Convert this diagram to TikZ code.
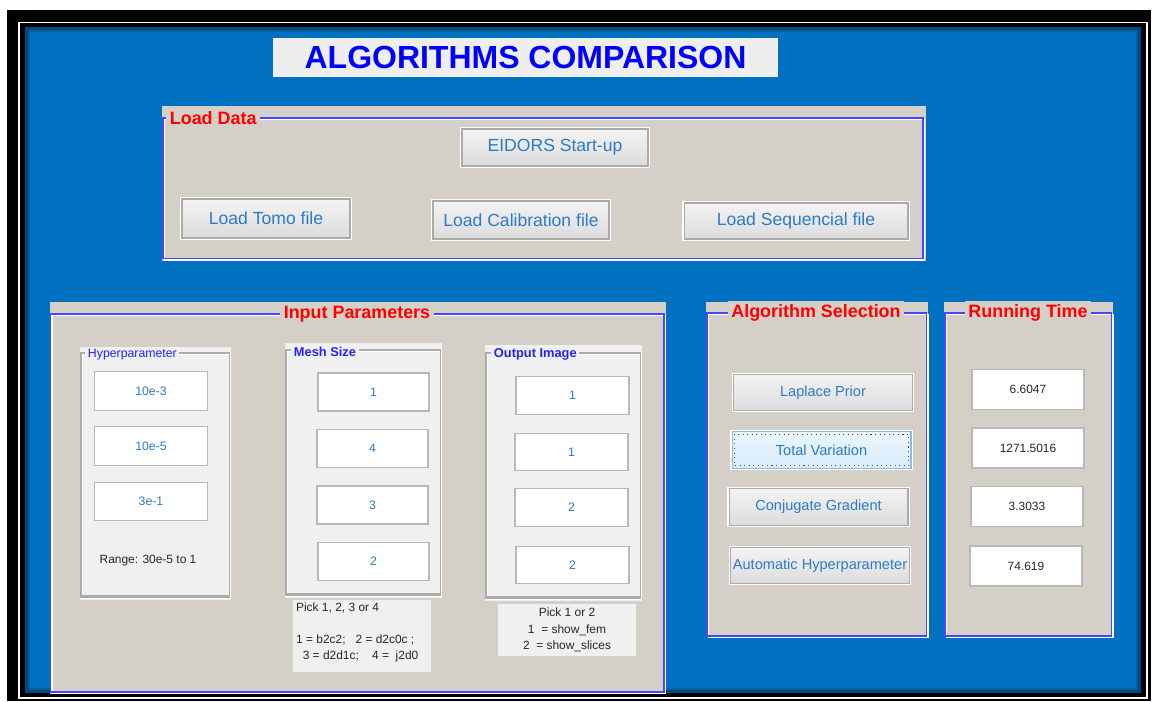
\documentclass[tikz,border=0pt]{standalone}
\usepackage{fontspec}
\setmainfont{Liberation Sans}

\definecolor{deskblue}{HTML}{0070C0}
\definecolor{panelgray}{HTML}{D4D0C8}
\definecolor{boxgray}{HTML}{F0F0F0}
\definecolor{titlegray}{HTML}{EEEEEE}
\definecolor{frameblue}{HTML}{4646FA}
\definecolor{edgegray}{HTML}{ABABAB}
\definecolor{labelblue}{HTML}{2B7BC9}
\definecolor{headblue}{HTML}{2323F5}
\definecolor{btntop}{HTML}{F3F3F3}
\definecolor{btnbot}{HTML}{DCDCDC}
\definecolor{focustop}{HTML}{EAF6FD}
\definecolor{focusbot}{HTML}{D7ECFB}
\definecolor{focusedge}{HTML}{8FB8E6}

\tikzset{
  paneltitle/.style={fill=panelgray, text=red, inner sep=2pt,
    font=\fontsize{10.2}{12}\selectfont\bfseries},
  subtitle/.style={fill=boxgray, text=headblue, inner sep=1.5pt, anchor=west,
    font=\fontsize{7}{8}\selectfont},
  panelframe/.style={draw=frameblue, line width=0.8pt},
  etchline/.style={draw=white, line width=0.7pt, shift={(1.5,1.5)}},
  subframe/.style={draw=edgegray, line width=0.6pt},
  pushbutton/.style={draw=edgegray, line width=0.6pt, top color=btntop,
    bottom color=btnbot, text=labelblue, inner sep=0pt,
    preaction={draw=white, line width=1.8pt},
    font=\fontsize{10}{12}\selectfont},
  algobutton/.style={pushbutton, minimum width=3.58cm, minimum height=0.73cm,
    font=\fontsize{8.3}{10}\selectfont},
  entry/.style={draw=edgegray!85, fill=white, line width=0.8pt, text=labelblue,
    inner sep=0pt, font=\fontsize{7}{8}\selectfont},
  timebox/.style={entry, text=black!85, minimum width=2.24cm, minimum height=0.8cm,
    font=\fontsize{6.8}{8}\selectfont},
  notetext/.style={text=black!85, inner sep=1pt, font=\fontsize{6.8}{9.2}\selectfont}
}

\begin{document}
\begin{tikzpicture}[x=0.02cm, y=-0.02cm]
  \useasboundingbox (0,0) rectangle (1152,702);

  % Window frame
  \fill[white] (0,0) rectangle (1152,702);
  \fill[black] (7,10) rectangle (1151,701);
  \draw[white, line width=0.9pt] (19,22.5) rectangle (1147,698);
  \fill[deskblue] (25,27) rectangle (1141,693);
  \draw[black, opacity=0.35, line width=1.2pt] (26.5,28.5) rectangle (1139.5,691.5);
  \draw[black, opacity=0.15, line width=1.5pt] (29,31) rectangle (1137,689);

  % Title
  \node[fill=titlegray, minimum width=10.1cm, minimum height=0.78cm, inner sep=0pt,
    text=blue, font=\fontsize{18.2}{20}\selectfont\bfseries] (title) at (525.5,57.5)
    {ALGORITHMS COMPARISON};

  % Load Data panel
  \fill[panelgray] (162,106) rectangle (926,261);
  \draw[etchline] (163,118) rectangle (923,258.5);
  \draw[panelframe] (163,118) rectangle (923,258.5);
  \node[paneltitle, anchor=west] (loadtitle) at (166,118) {Load Data};

  \node[pushbutton, minimum width=3.72cm, minimum height=0.74cm] (eidors) at (555,147.5) {EIDORS Start-up};
  \node[pushbutton, minimum width=3.36cm, minimum height=0.78cm] (tomo) at (266,218.5) {Load Tomo file};
  \node[pushbutton, minimum width=3.52cm, minimum height=0.76cm] (calib) at (521,220) {Load Calibration file};
  \node[pushbutton, minimum width=4.48cm, minimum height=0.72cm] (seq) at (796,221) {Load Sequencial file};

  % Input Parameters panel
  \fill[panelgray] (50,302) rectangle (666,694);
  \draw[etchline] (50.5,314) rectangle (664,692);
  \draw[panelframe] (50.5,314) rectangle (664,692);
  \node[paneltitle] (inputtitle) at (357,314) {Input Parameters};

  % Hyperparameter box
  \fill[boxgray] (80,347) rectangle (231,600);
  \draw[subframe, draw=white, shift={(1,1)}] (81,353) rectangle (229.5,597.5);
  \draw[subframe] (81,353) rectangle (229.5,597.5);
  \draw[edgegray, line width=0.9pt] (82,596) -- (229,596);
  \node[subtitle] (hyptitle) at (85,355) {Hyperparameter};
  \foreach \i/\y/\val in {1/391/10e-3, 2/446/10e-5, 3/501.5/3e-1}
    \node[entry, minimum width=2.27cm, minimum height=0.77cm] (hyp\i) at (151,\y) {\val};
  \node[notetext] (range) at (148,561) {Range: 30e-5 to 1};

  % Mesh Size box
  \fill[boxgray] (285,343) rectangle (442,598);
  \draw[subframe, draw=white, shift={(1,1)}] (286,350) rectangle (440.5,595.5);
  \draw[subframe] (286,350) rectangle (440.5,595.5);
  \draw[edgegray, line width=0.9pt] (287,594) -- (440,594);
  \node[subtitle, font=\fontsize{7.3}{8}\selectfont\bfseries] (meshtitle) at (291,351.5) {Mesh Size};
  \foreach \i/\x/\y/\val in {1/373.5/392/1, 2/372.5/448.5/4, 3/372.5/505/3, 4/373.5/561.5/2}
    \node[entry, minimum width=2.22cm, minimum height=0.76cm] (mesh\i) at (\x,\y) {\val};
  \fill[boxgray] (293,600) rectangle (431,672);
  \node[notetext, anchor=north west, align=left] (meshnote) at (294,600.5)
    {Pick 1, 2, 3 or 4\\[9.2pt]
     1 = b2c2;~~ 2 = d2c0c ;\\
     ~~3 = d2d1c;~~~ 4 = ~j2d0};

  % Output Image box
  \fill[boxgray] (485,345) rectangle (642,601);
  \draw[subframe, draw=white, shift={(1,1)}] (486,353) rectangle (640.5,598.5);
  \draw[subframe] (486,353) rectangle (640.5,598.5);
  \draw[edgegray, line width=0.9pt] (487,597) -- (640,597);
  \node[subtitle, font=\fontsize{7.3}{8}\selectfont\bfseries] (outtitle) at (491,354) {Output Image};
  \foreach \i/\x/\y/\val in {1/572.5/395.5/1, 2/571.5/452/1, 3/571.5/507.5/2, 4/572.5/565/2}
    \node[entry, minimum width=2.26cm, minimum height=0.75cm] (out\i) at (\x,\y) {\val};
  \node[fill=boxgray, minimum width=2.76cm, minimum height=1.05cm, notetext, align=center,
    font=\fontsize{6.8}{9.4}\selectfont] (outnote) at (567,630)
    {Pick 1 or 2\\ 1 ~= show\_fem\\ 2 ~= show\_slices};

  % Algorithm Selection panel
  \fill[panelgray] (706,302) rectangle (928,637);
  \draw[etchline] (707,313) rectangle (926.5,636);
  \draw[panelframe] (707,313) rectangle (926.5,636);
  \node[paneltitle] (algotitle) at (816,313) {Algorithm Selection};

  \node[algobutton] (laplace) at (823,392.5) {Laplace Prior};
  \node[algobutton, draw=focusedge, top color=focustop, bottom color=focusbot] (tv) at (821.5,450) {Total Variation};
  \draw[black!70, dotted, line width=0.6pt] ([shift={(3,3)}]tv.north west) rectangle ([shift={(-3,-3)}]tv.south east);
  \node[algobutton] (cg) at (818.5,507) {Conjugate Gradient};
  \node[algobutton] (autohyp) at (820,565.5) {Automatic Hyperparameter};

  % Running Time panel
  \fill[panelgray] (944,302) rectangle (1113,637);
  \draw[etchline] (945,313) rectangle (1111.5,636);
  \draw[panelframe] (945,313) rectangle (1111.5,636);
  \node[paneltitle] (timetitle) at (1028,313) {Running Time};
  \foreach \i/\x/\y/\val in {1/1028/389.5/6.6047, 2/1028/448/1271.5016, 3/1027/506.5/3.3033, 4/1026/566/74.619}
    \node[timebox] (time\i) at (\x,\y) {\val};
\end{tikzpicture}
\end{document}
